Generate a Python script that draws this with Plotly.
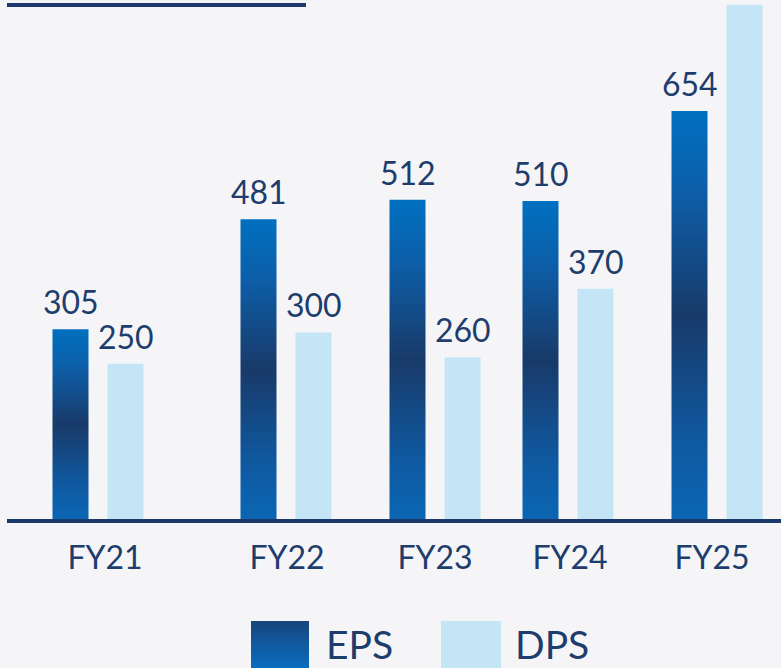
import plotly.graph_objects as go

# ---- data ----
categories = ["FY21", "FY22", "FY23", "FY24", "FY25"]
eps_values = [305, 481, 512, 510, 654]
dps_values = [250, 300, 260, 370, 824]   # FY25 DPS label not visible in the source; height estimated
dps_label_shown = [True, True, True, True, False]

# ---- layout / style (not data) ----
W, H = 781, 668
base_px = 520                          # baseline pixel row
group_pos = [98, 286, 435, 568, 717]   # group centres along x (px units)
tick_pos = [105, 287, 435, 570, 712]   # category label centres
half_gap = 27.5
bar_w = 36
y_top = base_px / 0.6253
NAVY = "#1b3a6b"
TEXT = "#1e3d6d"
DPS_C = "#c3e5f5"
BG = "#f5f5f7"
FONT = "Lato"
eps_scale = [[0, "#0b66b3"], [0.18, "#0f5aa2"], [0.5, "#183a69"],
             [0.8, "#0d5ea8"], [1, "#0070c0"]]

fig = go.Figure()

# EPS bars with vertical gradient (one filled polygon per bar, built from data)
for i, (cat, v) in enumerate(zip(categories, eps_values)):
    xc = group_pos[i] - half_gap
    fig.add_trace(go.Scatter(
        x=[xc - bar_w / 2, xc - bar_w / 2, xc + bar_w / 2, xc + bar_w / 2, xc - bar_w / 2],
        y=[0, v, v, 0, 0],
        mode="lines", line=dict(width=0), fill="toself",
        fillgradient=dict(type="vertical", colorscale=eps_scale, start=0, stop=v),
        name="EPS", showlegend=False, hoverinfo="skip"))

# DPS bars
fig.add_trace(go.Bar(
    x=[p + half_gap for p in group_pos], y=dps_values, width=bar_w,
    marker=dict(color=DPS_C, line=dict(width=0)), name="DPS", showlegend=False))

# value labels
annotations = []
for i in range(len(categories)):
    annotations.append(dict(x=group_pos[i] - half_gap, y=eps_values[i], xref="x", yref="y",
                            text=str(eps_values[i]), showarrow=False, yanchor="bottom", yshift=6,
                            font=dict(family=FONT, size=32, color=TEXT)))
    if dps_label_shown[i]:
        annotations.append(dict(x=group_pos[i] + half_gap, y=dps_values[i], xref="x", yref="y",
                                text=str(dps_values[i]), showarrow=False, yanchor="bottom", yshift=6,
                                font=dict(family=FONT, size=32, color=TEXT)))

# legend (custom, large squares) on a small auxiliary axis
fig.add_trace(go.Scatter(x=[251, 251, 309, 309, 251], y=[0, 1, 1, 0, 0], xaxis="x2", yaxis="y2",
                         mode="lines", line=dict(width=0), fill="toself",
                         fillgradient=dict(type="vertical",
                                           colorscale=[[0, "#0a6cbc"], [0.5, "#0f5aa0"], [1, "#17457a"]],
                                           start=0, stop=1),
                         showlegend=False, hoverinfo="skip"))
fig.add_trace(go.Scatter(x=[441, 441, 501, 501, 441], y=[0, 1, 1, 0, 0], xaxis="x2", yaxis="y2",
                         mode="lines", line=dict(width=0), fill="toself", fillcolor=DPS_C,
                         showlegend=False, hoverinfo="skip"))
for label, xl in (("EPS", 324 / W), ("DPS", 513 / W)):
    annotations.append(dict(x=xl, y=(H - 644) / H, xref="paper", yref="paper", text=label,
                            showarrow=False, xanchor="left", yanchor="middle",
                            font=dict(family=FONT, size=39, color=TEXT)))

shapes = [
    # baseline
    dict(type="rect", xref="paper", yref="paper", x0=7 / W, x1=1,
         y0=(H - 523) / H, y1=(H - 519) / H, fillcolor=NAVY, line=dict(width=0)),
    # top-left rule
    dict(type="rect", xref="paper", yref="paper", x0=7 / W, x1=306 / W,
         y0=1 - 7 / H, y1=1 - 3 / H, fillcolor=NAVY, line=dict(width=0)),
]

fig.update_layout(
    width=W, height=H, margin=dict(l=0, r=0, t=0, b=0),
    paper_bgcolor=BG, plot_bgcolor=BG, showlegend=False,
    xaxis=dict(range=[0, W], tickvals=tick_pos, ticktext=categories, showgrid=False,
               zeroline=False, showline=False, ticks="", ticklabelstandoff=16,
               tickfont=dict(family=FONT, size=32, color=TEXT), fixedrange=True),
    yaxis=dict(range=[0, y_top], domain=[(H - base_px) / H, 1], visible=False, fixedrange=True),
    xaxis2=dict(range=[0, W], domain=[0, 1], visible=False, anchor="y2", fixedrange=True),
    yaxis2=dict(range=[0, 1], domain=[0, (H - 621) / H], visible=False, anchor="x2", fixedrange=True),
    annotations=annotations, shapes=shapes,
)

fig.write_html("out.html", config={"displayModeBar": False},
               post_script="document.body.style.margin='0';document.body.style.overflow='hidden';")
